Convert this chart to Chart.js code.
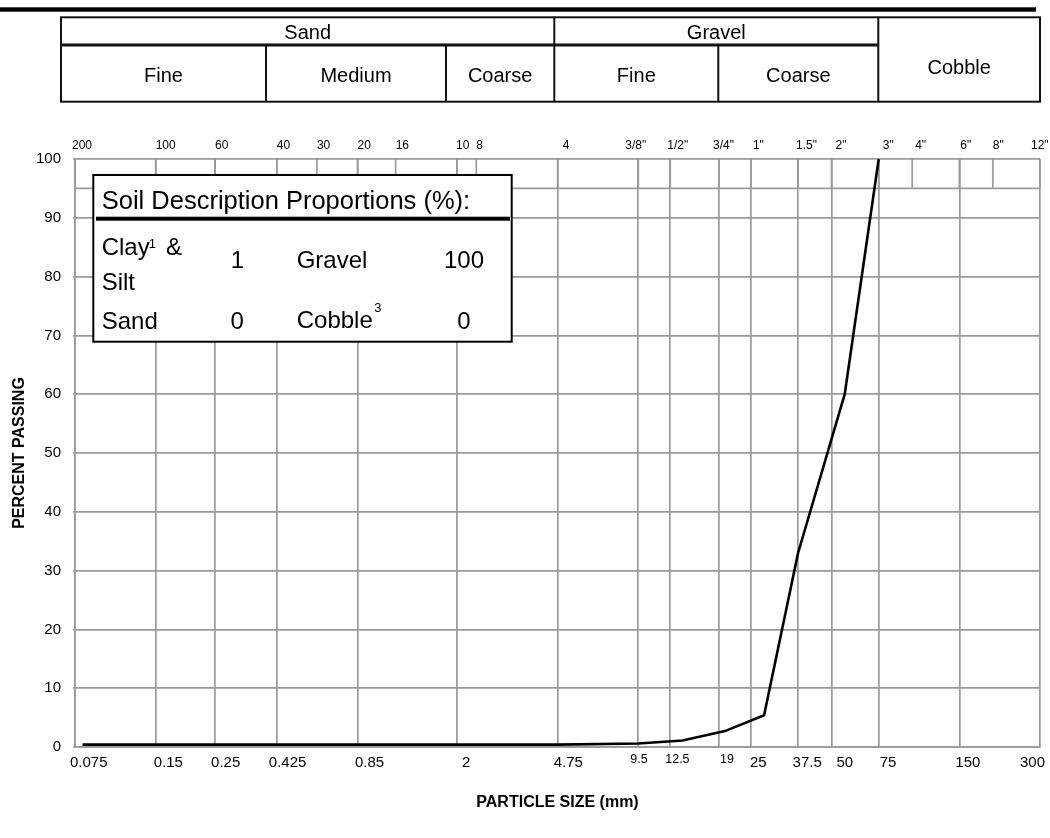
<!DOCTYPE html>
<html>
<head>
<meta charset="utf-8">
<title>Particle Size Distribution</title>
<script src="https://cdn.jsdelivr.net/npm/chart.js@4.4.1/dist/chart.umd.min.js"></script>
<style>
  html, body { margin: 0; padding: 0; background: #ffffff; }
  #wrap { width: 1050px; height: 838px; position: relative; }
  canvas { display: block; }
</style>
</head>
<body>
<div id="wrap"><canvas id="gradation" width="1050" height="838"></canvas></div>
<script>
// Gradation curve: particle size (mm) vs. percent passing
const particleSizeMm = [0.08, 0.15, 0.25, 0.425, 0.85, 2, 4.75, 9.5, 13.9, 20, 28, 37.5, 56, 75];
const percentPassing = [0.4, 0.4, 0.4, 0.4, 0.4, 0.4, 0.4, 0.6, 1.1, 2.7, 5.4, 33, 60, 100];

// Bottom axis: particle sizes (mm)
const sizeTickValues = [0.075, 0.15, 0.25, 0.425, 0.85, 2, 4.75, 9.5, 12.5, 19, 25, 37.5, 50, 75, 150, 300];
const sizeTickLabels = ['0.075', '0.15', '0.25', '0.425', '0.85', '2', '4.75', '9.5', '12.5', '19', '25', '37.5', '50', '75', '150', '300'];

// Top axis: sieve openings (mm) and their designations
const sieveOpenings = [0.075, 0.15, 0.25, 0.425, 0.6, 0.85, 1.18, 2, 2.36, 4.75, 9.5, 12.5, 19, 25, 37.5, 50, 75, 100, 150, 200, 300];
const sieveLabels = ['200', '100', '60', '40', '30', '20', '16', '10', '8', '4', '3/8"', '1/2"', '3/4"', '1"', '1.5"', '2"', '3"', '4"', '6"', '8"', '12"'];

// Vertical axis
const passingMin = 0;
const passingMax = 100;
const passingStep = 10;
const sieveStripBottom = 95;

// Soil classification bands
const groupNames = ['Sand', 'Gravel', 'Cobble'];
const subGroupNames = ['Fine', 'Medium', 'Coarse', 'Fine', 'Coarse'];

// Proportions summary
const proportionNames = ['Clay', 'Sand', 'Gravel', 'Cobble'];
const proportionValues = [1, 0, 100, 0];

const FONT = '"Liberation Sans", Arial, Helvetica, sans-serif';
const GRID = '#9a9a9a';
const GRID_W = 1.7;

// label placement tweaks (px, relative to the tick line)
const sizeLabelShift = [-5, -2, -4, -8, -2.5, 5, -4, -8, -5, 1, -1, -5.5, 5, 1, -4, -20];
const smallSizeLabels = ['9.5', '12.5', '19'];
const sieveLabelShift = [-3, 0, 0, 0, 0, 0, 0, -1, 0, 5, -13, -3, -6, 2, -2, 4, 4, 3, 1, 0, -9];

const decorPlugin = {
  id: 'gradationDecor',
  beforeDraw(chart) {
    const ctx = chart.ctx;
    ctx.save();
    ctx.fillStyle = '#ffffff';
    ctx.fillRect(0, 0, chart.width, chart.height);
    ctx.restore();
  },
  beforeDatasetsDraw(chart) {
    const ctx = chart.ctx;
    const xs = chart.scales.x, ys = chart.scales.y;
    const yTop = ys.getPixelForValue(passingMax);
    const yStrip = ys.getPixelForValue(sieveStripBottom);
    ctx.save();
    ctx.strokeStyle = GRID;
    ctx.lineWidth = GRID_W;
    ctx.beginPath();
    sieveOpenings.forEach(v => {
      const px = xs.getPixelForValue(v);
      ctx.moveTo(px, yTop);
      ctx.lineTo(px, yStrip);
    });
    ctx.moveTo(chart.chartArea.left, yStrip);
    ctx.lineTo(chart.chartArea.right, yStrip);
    ctx.stroke();
    ctx.restore();
  },
  afterDraw(chart) {
    const ctx = chart.ctx;
    const xs = chart.scales.x;
    ctx.save();

    // top rule
    ctx.fillStyle = '#000';
    ctx.fillRect(0, 7.3, 1036, 4.4);

    // classification table
    const L = 61, R = 1040, T = 17.3, M = 45, B = 101.7;
    const cSand = 554.3, cCob = 878.3;
    const subCols = [266, 446, 718.3];
    ctx.strokeStyle = '#111';
    ctx.lineWidth = 2;
    ctx.strokeRect(L, T, R - L, B - T);
    ctx.beginPath();
    [cSand, cCob].forEach(x => { ctx.moveTo(x, T); ctx.lineTo(x, B); });
    subCols.forEach(x => { ctx.moveTo(x, M); ctx.lineTo(x, B); });
    ctx.stroke();
    ctx.lineWidth = 3;
    ctx.beginPath();
    ctx.moveTo(L, M); ctx.lineTo(cCob, M);
    ctx.stroke();

    ctx.fillStyle = '#000';
    ctx.textAlign = 'center';
    ctx.textBaseline = 'alphabetic';
    ctx.font = '20px ' + FONT;
    ctx.fillText(groupNames[0], (L + cSand) / 2, 39.3);
    ctx.fillText(groupNames[1], (cSand + cCob) / 2, 39.3);
    ctx.fillText(groupNames[2], (cCob + R) / 2, 74);
    const subEdges = [L, subCols[0], subCols[1], cSand, subCols[2], cCob];
    subGroupNames.forEach((name, i) => {
      ctx.fillText(name, (subEdges[i] + subEdges[i + 1]) / 2, 81.7);
    });

    // sieve designations above the plot
    ctx.textAlign = 'left';
    ctx.font = '12px ' + FONT;
    sieveOpenings.forEach((v, i) => {
      ctx.fillText(sieveLabels[i], xs.getPixelForValue(v) + sieveLabelShift[i], 148.5);
    });

    // particle sizes below the plot
    sizeTickValues.forEach((v, i) => {
      const lab = sizeTickLabels[i];
      const small = smallSizeLabels.includes(lab);
      ctx.font = (small ? '12.5px ' : '15px ') + FONT;
      ctx.fillText(lab, xs.getPixelForValue(v) + sizeLabelShift[i], small ? 763 : 767);
    });

    // proportions box
    const bx = 93.3, by = 175, bw = 418.4, bh = 166.7;
    ctx.fillStyle = '#fff';
    ctx.fillRect(bx, by, bw, bh);
    ctx.strokeStyle = '#000';
    ctx.lineWidth = 2;
    ctx.strokeRect(bx, by, bw, bh);
    ctx.fillStyle = '#000';
    ctx.fillRect(96, 216.7, 414, 4);

    ctx.textAlign = 'left';
    ctx.font = '25.5px ' + FONT;
    ctx.fillText('Soil Description Proportions (%):', 101.7, 209.3);

    ctx.font = '24px ' + FONT;
    // Clay & Silt
    ctx.fillText(proportionNames[0], 101.7, 255);
    const clayW = ctx.measureText(proportionNames[0]).width;
    ctx.font = '13px ' + FONT;
    ctx.fillText('1', 101.7 + clayW - 1, 248);
    ctx.font = '24px ' + FONT;
    ctx.fillText('&', 166, 255);
    ctx.fillText('Silt', 101.7, 289.5);
    // Sand
    ctx.fillText(proportionNames[1], 101.7, 329.3);
    // Gravel
    ctx.fillText(proportionNames[2], 296.7, 268);
    // Cobble
    ctx.fillText(proportionNames[3], 296.7, 327.5);
    const cobW = ctx.measureText(proportionNames[3]).width;
    ctx.font = '13px ' + FONT;
    ctx.fillText('3', 296.7 + cobW + 1.5, 311.5);

    ctx.font = '24px ' + FONT;
    ctx.textAlign = 'center';
    ctx.fillText(String(proportionValues[0]), 237.5, 268.3);
    ctx.fillText(String(proportionValues[1]), 237.2, 329.3);
    ctx.fillText(String(proportionValues[2]), 464, 268.3);
    ctx.fillText(String(proportionValues[3]), 464, 329.3);

    ctx.restore();
  }
};

new Chart(document.getElementById('gradation'), {
  type: 'line',
  data: {
    datasets: [{
      label: 'Percent passing',
      data: particleSizeMm.map((s, i) => ({ x: s, y: percentPassing[i] })),
      borderColor: '#000000',
      borderWidth: 2.6,
      pointRadius: 0,
      tension: 0,
      fill: false
    }]
  },
  options: {
    responsive: false,
    animation: false,
    devicePixelRatio: 1,
    layout: { padding: { left: 0, right: 10, top: 159, bottom: 0 } },
    plugins: {
      legend: { display: false },
      tooltip: { enabled: false },
      title: { display: false }
    },
    scales: {
      x: {
        type: 'logarithmic',
        min: sizeTickValues[0],
        max: sizeTickValues[sizeTickValues.length - 1],
        afterBuildTicks(scale) {
          scale.ticks = sizeTickValues.map(v => ({ value: v }));
        },
        afterFit(scale) { scale.height = 91; },
        ticks: { display: false },
        grid: { color: GRID, lineWidth: GRID_W, drawTicks: false },
        border: { display: true, color: GRID, width: GRID_W },
        title: {
          display: true,
          text: 'PARTICLE SIZE (mm)',
          color: '#000',
          font: { family: FONT, size: 16, weight: 'bold' },
          padding: { top: 0, bottom: 25.5 }
        }
      },
      y: {
        min: passingMin,
        max: passingMax,
        afterFit(scale) { scale.width = 75; },
        ticks: {
          stepSize: passingStep,
          color: '#000',
          padding: 12,
          font: { family: FONT, size: 15 }
        },
        grid: { color: GRID, lineWidth: GRID_W, tickLength: 2 },
        border: { display: true, color: GRID, width: GRID_W },
        title: {
          display: true,
          text: 'PERCENT PASSING',
          color: '#000',
          font: { family: FONT, size: 16, weight: 'bold' },
          padding: { top: 10.4, bottom: 0 }
        }
      }
    }
  },
  plugins: [decorPlugin]
});
</script>
</body>
</html>
